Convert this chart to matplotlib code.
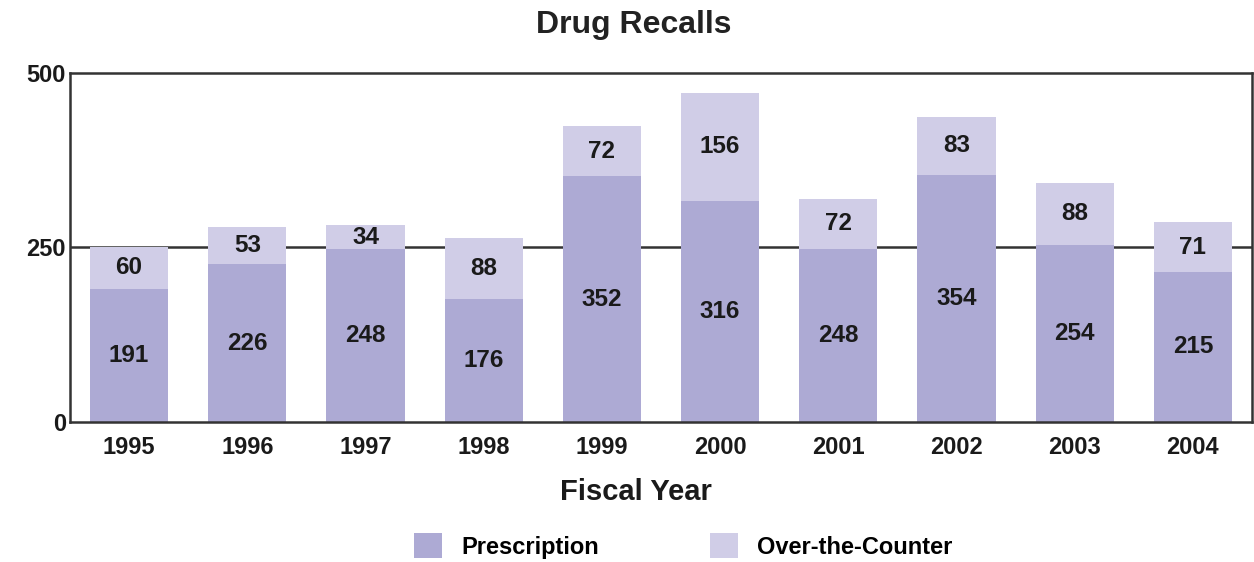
import matplotlib
matplotlib.use("Agg")
import matplotlib.pyplot as plt
from matplotlib.patches import Patch

# ── Data ──────────────────────────────────────────────────────────────────────
years = ["1995", "1996", "1997", "1998", "1999", "2000", "2001", "2002", "2003", "2004"]
prescription = [191, 226, 248, 176, 352, 316, 248, 354, 254, 215]
otc = [60, 53, 34, 88, 72, 156, 72, 83, 88, 71]
y_ticks = [0, 250, 500]

RX = "#ADAAD4"
OTC = "#D0CDE7"
INK = "#1A1A1A"

plt.rcParams["font.family"] = ["Liberation Sans", "DejaVu Sans"]
plt.rcParams["font.weight"] = "bold"

fig = plt.figure(figsize=(12.54, 5.62), dpi=100)
ax = fig.add_axes([70 / 1254, 140 / 562, 1182 / 1254, 349 / 562])

x = list(range(len(years)))
w = 0.66
ax.axhline(250, color="#333333", lw=1.8, zorder=1)
ax.bar(x, prescription, width=w, color=RX, zorder=2)
ax.bar(x, otc, width=w, bottom=prescription, color=OTC, zorder=2)

for i in x:
    ax.text(i, prescription[i] / 2, str(prescription[i]), ha="center", va="center",
            fontsize=17.5, fontweight="bold", color=INK, zorder=3)
    ax.text(i, prescription[i] + otc[i] / 2, str(otc[i]), ha="center", va="center",
            fontsize=17.5, fontweight="bold", color=INK, zorder=3)

ax.set_xlim(-0.5, len(years) - 0.5)
ax.set_ylim(0, 500)
ax.set_yticks(y_ticks)
ax.set_xticks(x)
ax.set_xticklabels(years)
ax.tick_params(length=0, labelsize=17, colors=INK)
ax.tick_params(axis="x", pad=10)
ax.tick_params(axis="y", pad=3)
for lbl in ax.get_xticklabels() + ax.get_yticklabels():
    lbl.set_fontweight("bold")
for s in ax.spines.values():
    s.set_color("#333333")
    s.set_linewidth(1.8)

ax.set_xlabel("Fiscal Year", fontsize=21, fontweight="bold", color=INK)
ax.xaxis.set_label_coords((636 - 70) / 1182, -0.16)
fig.text(634 / 1254, 1 - 25 / 562, "Drug Recalls", ha="center", va="center",
         fontsize=23, fontweight="bold", color="#222222")

handles = [Patch(facecolor=RX, edgecolor="none", label="Prescription"),
           Patch(facecolor=OTC, edgecolor="none", label="Over-the-Counter")]
fig.legend(handles=handles, loc="center", bbox_to_anchor=(683 / 1254, 1 - 546 / 562),
           ncol=2, frameon=False,
           prop={"family": "Liberation Sans", "weight": "bold", "size": 17},
           handlelength=1.2, handleheight=1.2, columnspacing=4.7, handletextpad=0.8)

fig.savefig("out.png", dpi=100, facecolor="white")
